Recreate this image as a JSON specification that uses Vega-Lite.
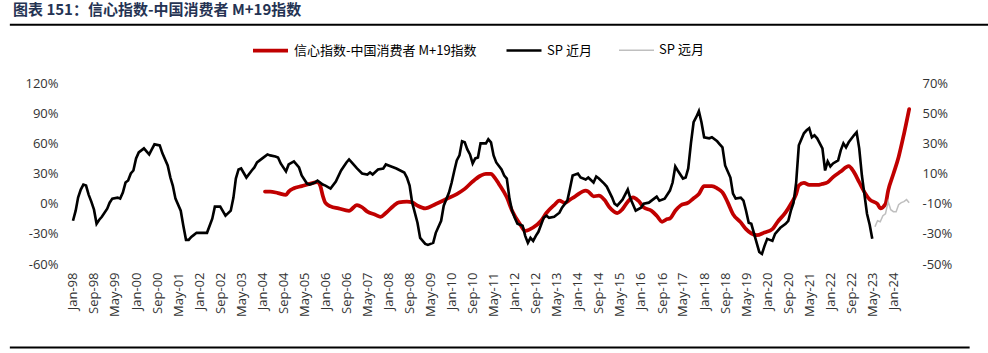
{
"$schema":"https://vega.github.io/schema/vega-lite/v6.json",
"autosize":{"type":"none"},
"padding":{"left":66,"top":83,"right":74,"bottom":89},
"width":848,"height":181,
"background":"#ffffff",
"config":{"view":{"stroke":null},"font":"Open Sans"},
"title":{"text":"图表 151：信心指数-中国消费者 M+19指数","anchor":"start","frame":"group","dx":-53,"offset":6,"font":"Noto Sans CJK SC","fontSize":15,"fontWeight":"bold","color":"#253353"},
"datasets":{
"red":[
{"d":"2004-02-01","v":-2},{"d":"2004-04-01","v":-2},{"d":"2004-07-01","v":-3},{"d":"2004-10-01","v":-4.2},{"d":"2004-11-01","v":-2},
{"d":"2005-01-01","v":0.2},{"d":"2005-04-01","v":1.6},{"d":"2005-07-01","v":3.1},{"d":"2005-10-01","v":4.2},{"d":"2005-11-01","v":2},{"d":"2005-12-01","v":-4.7},
{"d":"2006-01-01","v":-9.5},{"d":"2006-03-01","v":-11.8},{"d":"2006-06-01","v":-13.1},{"d":"2006-10-01","v":-14.7},
{"d":"2007-01-01","v":-10.9},{"d":"2007-03-01","v":-12.4},{"d":"2007-05-01","v":-15.3},{"d":"2007-08-01","v":-17.3},{"d":"2007-10-01","v":-18.7},{"d":"2007-12-01","v":-16.2},
{"d":"2008-03-01","v":-11.3},{"d":"2008-05-01","v":-9.1},{"d":"2008-08-01","v":-8.7},{"d":"2008-10-01","v":-9.1},{"d":"2008-12-01","v":-11.3},
{"d":"2009-03-01","v":-13.1},{"d":"2009-07-01","v":-10.2},{"d":"2009-11-01","v":-6.9},
{"d":"2010-03-01","v":-3.6},{"d":"2010-06-01","v":-0.2},{"d":"2010-09-01","v":4.7},{"d":"2010-12-01","v":8.5},
{"d":"2011-02-01","v":9.8},{"d":"2011-04-01","v":9.8},{"d":"2011-05-01","v":8.2},{"d":"2011-07-01","v":3.1},{"d":"2011-10-01","v":-5.8},{"d":"2011-12-01","v":-14.7},
{"d":"2012-03-01","v":-23.5},{"d":"2012-05-01","v":-28},{"d":"2012-08-01","v":-25.8},{"d":"2012-11-01","v":-21.3},
{"d":"2013-01-01","v":-16.2},{"d":"2013-04-01","v":-10.9},{"d":"2013-06-01","v":-8},{"d":"2013-08-01","v":-9.5},{"d":"2013-10-01","v":-7.3},{"d":"2013-12-01","v":-5.1},
{"d":"2014-04-01","v":-1.3},{"d":"2014-05-01","v":-2},{"d":"2014-07-01","v":-5.1},{"d":"2014-09-01","v":-4.7},{"d":"2014-11-01","v":-7.3},
{"d":"2015-01-01","v":-12.4},{"d":"2015-04-01","v":-16.2},{"d":"2015-06-01","v":-13.6},{"d":"2015-08-01","v":-8.7},{"d":"2015-10-01","v":-5.8},{"d":"2015-12-01","v":-8},
{"d":"2016-02-01","v":-12.4},{"d":"2016-05-01","v":-14.7},{"d":"2016-07-01","v":-18},{"d":"2016-09-01","v":-22},{"d":"2016-11-01","v":-20.2},{"d":"2016-12-01","v":-19.8},
{"d":"2017-02-01","v":-14.7},{"d":"2017-04-01","v":-11.3},{"d":"2017-07-01","v":-9.3},{"d":"2017-09-01","v":-6.4},{"d":"2017-11-01","v":-3.6},
{"d":"2018-01-01","v":1.6},{"d":"2018-04-01","v":1.6},{"d":"2018-06-01","v":0.2},{"d":"2018-08-01","v":-2.5},{"d":"2018-10-01","v":-9.1},{"d":"2018-12-01","v":-16.9},
{"d":"2019-03-01","v":-22.4},{"d":"2019-05-01","v":-26.9},{"d":"2019-09-01","v":-30.9},{"d":"2019-12-01","v":-29.1},
{"d":"2020-03-01","v":-26.9},{"d":"2020-05-01","v":-22},{"d":"2020-08-01","v":-15.8},{"d":"2020-10-01","v":-10.2},{"d":"2020-12-01","v":-3.6},
{"d":"2021-01-01","v":2},{"d":"2021-03-01","v":3.8},{"d":"2021-05-01","v":2.4},{"d":"2021-08-01","v":2.4},{"d":"2021-10-01","v":3.1},{"d":"2021-12-01","v":4.2},
{"d":"2022-02-01","v":7.6},{"d":"2022-05-01","v":11.3},{"d":"2022-08-01","v":14.9},{"d":"2022-10-01","v":10.9},{"d":"2022-12-01","v":4.2},
{"d":"2023-02-01","v":-2.5},{"d":"2023-04-01","v":-7.3},{"d":"2023-07-01","v":-10.2},{"d":"2023-08-01","v":-13.1},{"d":"2023-10-01","v":-10.2},{"d":"2023-11-01","v":-1.3},
{"d":"2024-01-01","v":9.8},{"d":"2024-03-01","v":21},{"d":"2024-05-01","v":36},{"d":"2024-07-01","v":52.7}
],
"near":[
{"d":"1998-01-01","v":-17},{"d":"1998-02-01","v":-7},{"d":"1998-03-01","v":6},{"d":"1998-04-01","v":14},{"d":"1998-05-01","v":19},{"d":"1998-06-01","v":18},{"d":"1998-07-01","v":9},{"d":"1998-08-01","v":2},{"d":"1998-09-01","v":-6},{"d":"1998-10-01","v":-20},{"d":"1998-11-01","v":-16},{"d":"1998-12-01","v":-13},
{"d":"1999-02-01","v":-5},{"d":"1999-03-01","v":1},{"d":"1999-04-01","v":5},{"d":"1999-06-01","v":6},{"d":"1999-07-01","v":5},{"d":"1999-08-01","v":11},{"d":"1999-09-01","v":21},{"d":"1999-10-01","v":23},{"d":"1999-11-01","v":30},{"d":"1999-12-01","v":33},
{"d":"2000-01-01","v":45},{"d":"2000-02-01","v":51},{"d":"2000-04-01","v":55},{"d":"2000-05-01","v":52},{"d":"2000-06-01","v":49},{"d":"2000-07-01","v":54},{"d":"2000-08-01","v":59},{"d":"2000-10-01","v":58},{"d":"2000-11-01","v":50},
{"d":"2001-01-01","v":38},{"d":"2001-02-01","v":26},{"d":"2001-03-01","v":18},{"d":"2001-04-01","v":5},{"d":"2001-06-01","v":-7},{"d":"2001-07-01","v":-22},{"d":"2001-08-01","v":-36},{"d":"2001-09-01","v":-36},{"d":"2001-10-01","v":-33},{"d":"2001-11-01","v":-31},{"d":"2001-12-01","v":-29},
{"d":"2002-01-01","v":-29},{"d":"2002-04-01","v":-29},{"d":"2002-06-01","v":-15},{"d":"2002-07-01","v":-3},{"d":"2002-09-01","v":-3},{"d":"2002-11-01","v":-12},
{"d":"2003-01-01","v":-7},{"d":"2003-02-01","v":6},{"d":"2003-03-01","v":25},{"d":"2003-04-01","v":34},{"d":"2003-05-01","v":35},{"d":"2003-07-01","v":26},{"d":"2003-09-01","v":33},{"d":"2003-10-01","v":36},{"d":"2003-11-01","v":41},
{"d":"2004-01-01","v":45},{"d":"2004-03-01","v":49},{"d":"2004-04-01","v":48},{"d":"2004-06-01","v":47},{"d":"2004-07-01","v":46},{"d":"2004-08-01","v":40},{"d":"2004-10-01","v":32},{"d":"2004-11-01","v":39},
{"d":"2005-01-01","v":42},{"d":"2005-03-01","v":36},{"d":"2005-04-01","v":28},{"d":"2005-06-01","v":20},{"d":"2005-07-01","v":19},{"d":"2005-09-01","v":21},{"d":"2005-10-01","v":23},{"d":"2005-12-01","v":19},
{"d":"2006-01-01","v":18},{"d":"2006-03-01","v":15},{"d":"2006-05-01","v":22},{"d":"2006-07-01","v":33},{"d":"2006-09-01","v":41},{"d":"2006-10-01","v":44},{"d":"2006-11-01","v":41},
{"d":"2007-01-01","v":35},{"d":"2007-03-01","v":30},{"d":"2007-05-01","v":29},{"d":"2007-06-01","v":31},{"d":"2007-07-01","v":29},{"d":"2007-09-01","v":34},{"d":"2007-11-01","v":35},{"d":"2007-12-01","v":39},
{"d":"2008-02-01","v":37},{"d":"2008-04-01","v":35},{"d":"2008-07-01","v":31},{"d":"2008-08-01","v":26},{"d":"2008-09-01","v":18},{"d":"2008-10-01","v":1},{"d":"2008-12-01","v":-19},
{"d":"2009-01-01","v":-34},{"d":"2009-03-01","v":-40},{"d":"2009-04-01","v":-41},{"d":"2009-06-01","v":-39},{"d":"2009-07-01","v":-29},{"d":"2009-09-01","v":-17},{"d":"2009-10-01","v":-2},{"d":"2009-12-01","v":11},
{"d":"2010-01-01","v":21},{"d":"2010-02-01","v":33},{"d":"2010-03-01","v":43},{"d":"2010-04-01","v":48},{"d":"2010-05-01","v":62},{"d":"2010-06-01","v":61},{"d":"2010-07-01","v":54},{"d":"2010-08-01","v":49},{"d":"2010-09-01","v":40},{"d":"2010-10-01","v":45},{"d":"2010-11-01","v":46},{"d":"2010-12-01","v":60},
{"d":"2011-02-01","v":60},{"d":"2011-03-01","v":64},{"d":"2011-04-01","v":61},{"d":"2011-05-01","v":48},{"d":"2011-06-01","v":41},{"d":"2011-08-01","v":34},{"d":"2011-09-01","v":28},{"d":"2011-10-01","v":25},{"d":"2011-11-01","v":5},{"d":"2011-12-01","v":-7},
{"d":"2012-01-01","v":-14},{"d":"2012-02-01","v":-20},{"d":"2012-04-01","v":-22},{"d":"2012-05-01","v":-32},{"d":"2012-06-01","v":-39},{"d":"2012-07-01","v":-34},{"d":"2012-08-01","v":-37},{"d":"2012-09-01","v":-32},{"d":"2012-10-01","v":-28},{"d":"2012-12-01","v":-14},
{"d":"2013-01-01","v":-12},{"d":"2013-02-01","v":-14},{"d":"2013-04-01","v":-13},{"d":"2013-06-01","v":-9},{"d":"2013-07-01","v":-4},{"d":"2013-09-01","v":3},{"d":"2013-10-01","v":15},{"d":"2013-11-01","v":28},
{"d":"2014-01-01","v":30},{"d":"2014-02-01","v":26},{"d":"2014-04-01","v":24},{"d":"2014-05-01","v":26},{"d":"2014-07-01","v":21},{"d":"2014-08-01","v":27},{"d":"2014-09-01","v":25},{"d":"2014-11-01","v":20},{"d":"2014-12-01","v":17},
{"d":"2015-02-01","v":6},{"d":"2015-03-01","v":0},{"d":"2015-04-01","v":-2},{"d":"2015-06-01","v":4},{"d":"2015-08-01","v":14},{"d":"2015-09-01","v":5},{"d":"2015-11-01","v":-7},
{"d":"2016-01-01","v":-4},{"d":"2016-02-01","v":0},{"d":"2016-04-01","v":1},{"d":"2016-06-01","v":5},{"d":"2016-07-01","v":7},{"d":"2016-08-01","v":3},{"d":"2016-10-01","v":5},{"d":"2016-12-01","v":13},
{"d":"2017-01-01","v":21},{"d":"2017-02-01","v":37},{"d":"2017-03-01","v":33},{"d":"2017-05-01","v":25},{"d":"2017-06-01","v":26},{"d":"2017-07-01","v":35},{"d":"2017-08-01","v":60},{"d":"2017-09-01","v":81},{"d":"2017-10-01","v":86},{"d":"2017-11-01","v":92},{"d":"2017-12-01","v":81},
{"d":"2018-01-01","v":66},{"d":"2018-03-01","v":65},{"d":"2018-04-01","v":66},{"d":"2018-06-01","v":62},{"d":"2018-07-01","v":59},{"d":"2018-08-01","v":56},{"d":"2018-09-01","v":38},{"d":"2018-11-01","v":26},{"d":"2018-12-01","v":10},
{"d":"2019-01-01","v":5},{"d":"2019-03-01","v":6},{"d":"2019-04-01","v":3},{"d":"2019-05-01","v":-7},{"d":"2019-06-01","v":-19},{"d":"2019-07-01","v":-20},{"d":"2019-09-01","v":-39},{"d":"2019-10-01","v":-48},{"d":"2019-11-01","v":-50},{"d":"2019-12-01","v":-42},
{"d":"2020-01-01","v":-35},{"d":"2020-03-01","v":-37},{"d":"2020-04-01","v":-30},{"d":"2020-05-01","v":-27},{"d":"2020-06-01","v":-24},{"d":"2020-08-01","v":-20},{"d":"2020-09-01","v":-17},{"d":"2020-10-01","v":-7},{"d":"2020-11-01","v":1},{"d":"2020-12-01","v":21},
{"d":"2021-01-01","v":58},{"d":"2021-03-01","v":70},{"d":"2021-04-01","v":73},{"d":"2021-05-01","v":75},{"d":"2021-06-01","v":66},{"d":"2021-07-01","v":68},{"d":"2021-08-01","v":65},{"d":"2021-10-01","v":55},{"d":"2021-11-01","v":33},{"d":"2021-12-01","v":42},
{"d":"2022-01-01","v":37},{"d":"2022-02-01","v":40},{"d":"2022-04-01","v":43},{"d":"2022-05-01","v":53},{"d":"2022-06-01","v":60},{"d":"2022-07-01","v":56},{"d":"2022-08-01","v":61},{"d":"2022-10-01","v":68},{"d":"2022-11-01","v":71},{"d":"2022-12-01","v":55},
{"d":"2023-01-01","v":28},{"d":"2023-02-01","v":8},{"d":"2023-03-01","v":-10},{"d":"2023-04-01","v":-21},{"d":"2023-05-01","v":-35}
],
"far":[
{"d":"2023-06-01","v":-23},{"d":"2023-07-01","v":-17},{"d":"2023-08-01","v":-18},{"d":"2023-09-01","v":-12},{"d":"2023-10-01","v":-10},{"d":"2023-11-01","v":2},{"d":"2023-12-01","v":-6},
{"d":"2024-01-01","v":-8},{"d":"2024-02-01","v":-8},{"d":"2024-03-01","v":-1},{"d":"2024-04-01","v":1},{"d":"2024-05-01","v":2},{"d":"2024-06-01","v":4},{"d":"2024-07-01","v":1}
]
},
"layer":[
{
"data":{"values":[{}]},
"mark":{"type":"rule","color":"#000000","strokeWidth":2},
"encoding":{
"x":{"datum":{"year":1996,"month":1,"date":1,"utc":true},"type":"temporal","scale":{"type":"utc","domain":[{"year":1997,"month":10,"date":12,"utc":true},{"year":2024,"month":8,"date":26,"utc":true}]},"axis":null},
"x2":{"datum":{"year":2027,"month":1,"date":1,"utc":true}},
"y":{"datum":178,"type":"quantitative","scale":{"domain":[-60,120],"nice":false,"zero":false},"axis":null}
}
},
{
"data":{"values":[{}]},
"mark":{"type":"rule","color":"#000000","strokeWidth":2},
"encoding":{
"x":{"datum":{"year":1996,"month":1,"date":1,"utc":true},"type":"temporal","scale":{"type":"utc","domain":[{"year":1997,"month":10,"date":12,"utc":true},{"year":2024,"month":8,"date":26,"utc":true}]},"axis":null},
"x2":{"datum":{"year":2026,"month":6,"date":1,"utc":true}},
"y":{"datum":-143,"type":"quantitative","scale":{"domain":[-60,120],"nice":false,"zero":false},"axis":null}
}
},
{
"data":{"name":"red"},
"transform":[{"calculate":"'信心指数-中国消费者 M+19指数'","as":"s"}],
"mark":{"type":"line","interpolate":"monotone","strokeCap":"round"},
"encoding":{
"x":{"field":"d","type":"temporal","scale":{"type":"utc","domain":[{"year":1997,"month":10,"date":12,"utc":true},{"year":2024,"month":8,"date":26,"utc":true}]},"axis":null},
"y":{"field":"v","type":"quantitative","scale":{"domain":[-50,70],"nice":false,"zero":false},
"axis":{"orient":"right","values":[-50,-30,-10,10,30,50,70],"labelExpr":"datum.value + '%'","domain":false,"ticks":false,"grid":false,"title":null,"labelFont":"Open Sans","labelFontSize":13,"labelColor":"#333333","labelPadding":8}},
"color":{"field":"s","type":"nominal","scale":{"domain":["信心指数-中国消费者 M+19指数","SP 近月","SP 远月"],"range":["#C00000","#000000","#BFBFBF"]},
"legend":{"orient":"none","legendX":185,"legendY":-52,"direction":"horizontal","title":null,"symbolType":"stroke","symbolSize":1225,"labelFont":"Noto Sans CJK SC","labelFontSize":13,"labelColor":"#000000","labelLimit":0,"columnPadding":24,"labelOffset":4}},
"strokeWidth":{"field":"s","type":"nominal","scale":{"domain":["信心指数-中国消费者 M+19指数","SP 近月","SP 远月"],"range":[3.75,1.5,1.5]},
"legend":{"orient":"none","legendX":185,"legendY":-52,"direction":"horizontal","title":null,"symbolType":"stroke","symbolSize":1225,"labelFont":"Noto Sans CJK SC","labelFontSize":13,"labelColor":"#000000","labelLimit":0,"columnPadding":24,"labelOffset":4}}
}
},
{
"data":{"name":"near"},
"transform":[{"calculate":"'SP 近月'","as":"s"}],
"mark":{"type":"line"},
"encoding":{
"x":{"field":"d","type":"temporal","scale":{"type":"utc","domain":[{"year":1997,"month":10,"date":12,"utc":true},{"year":2024,"month":8,"date":26,"utc":true}]},
"axis":{"orient":"bottom","values":[
{"year":1998,"month":1,"date":1,"utc":true},{"year":1998,"month":9,"date":1,"utc":true},{"year":1999,"month":5,"date":1,"utc":true},
{"year":2000,"month":1,"date":1,"utc":true},{"year":2000,"month":9,"date":1,"utc":true},{"year":2001,"month":5,"date":1,"utc":true},
{"year":2002,"month":1,"date":1,"utc":true},{"year":2002,"month":9,"date":1,"utc":true},{"year":2003,"month":5,"date":1,"utc":true},
{"year":2004,"month":1,"date":1,"utc":true},{"year":2004,"month":9,"date":1,"utc":true},{"year":2005,"month":5,"date":1,"utc":true},
{"year":2006,"month":1,"date":1,"utc":true},{"year":2006,"month":9,"date":1,"utc":true},{"year":2007,"month":5,"date":1,"utc":true},
{"year":2008,"month":1,"date":1,"utc":true},{"year":2008,"month":9,"date":1,"utc":true},{"year":2009,"month":5,"date":1,"utc":true},
{"year":2010,"month":1,"date":1,"utc":true},{"year":2010,"month":9,"date":1,"utc":true},{"year":2011,"month":5,"date":1,"utc":true},
{"year":2012,"month":1,"date":1,"utc":true},{"year":2012,"month":9,"date":1,"utc":true},{"year":2013,"month":5,"date":1,"utc":true},
{"year":2014,"month":1,"date":1,"utc":true},{"year":2014,"month":9,"date":1,"utc":true},{"year":2015,"month":5,"date":1,"utc":true},
{"year":2016,"month":1,"date":1,"utc":true},{"year":2016,"month":9,"date":1,"utc":true},{"year":2017,"month":5,"date":1,"utc":true},
{"year":2018,"month":1,"date":1,"utc":true},{"year":2018,"month":9,"date":1,"utc":true},{"year":2019,"month":5,"date":1,"utc":true},
{"year":2020,"month":1,"date":1,"utc":true},{"year":2020,"month":9,"date":1,"utc":true},{"year":2021,"month":5,"date":1,"utc":true},
{"year":2022,"month":1,"date":1,"utc":true},{"year":2022,"month":9,"date":1,"utc":true},{"year":2023,"month":5,"date":1,"utc":true},
{"year":2024,"month":1,"date":1,"utc":true}],
"format":"%b-%y","labelAngle":-90,"labelOverlap":false,"labelFlush":false,"labelBound":false,"domain":false,"ticks":false,"grid":false,"title":null,"labelFont":"Open Sans","labelFontSize":13,"labelColor":"#333333","labelPadding":8}},
"y":{"field":"v","type":"quantitative","scale":{"domain":[-60,120],"nice":false,"zero":false},
"axis":{"orient":"left","values":[-60,-30,0,30,60,90,120],"labelExpr":"datum.value + '%'","domain":false,"ticks":false,"grid":false,"title":null,"labelFont":"Open Sans","labelFontSize":13,"labelColor":"#333333","labelPadding":8}},
"color":{"field":"s","type":"nominal","scale":{"domain":["信心指数-中国消费者 M+19指数","SP 近月","SP 远月"],"range":["#C00000","#000000","#BFBFBF"]},
"legend":{"orient":"none","legendX":185,"legendY":-52,"direction":"horizontal","title":null,"symbolType":"stroke","symbolSize":1225,"labelFont":"Noto Sans CJK SC","labelFontSize":13,"labelColor":"#000000","labelLimit":0,"columnPadding":24,"labelOffset":4}},
"strokeWidth":{"field":"s","type":"nominal","scale":{"domain":["信心指数-中国消费者 M+19指数","SP 近月","SP 远月"],"range":[3.75,1.5,1.5]},
"legend":{"orient":"none","legendX":185,"legendY":-52,"direction":"horizontal","title":null,"symbolType":"stroke","symbolSize":1225,"labelFont":"Noto Sans CJK SC","labelFontSize":13,"labelColor":"#000000","labelLimit":0,"columnPadding":24,"labelOffset":4}}
}
},
{
"data":{"name":"far"},
"transform":[{"calculate":"'SP 远月'","as":"s"}],
"mark":{"type":"line"},
"encoding":{
"x":{"field":"d","type":"temporal","scale":{"type":"utc","domain":[{"year":1997,"month":10,"date":12,"utc":true},{"year":2024,"month":8,"date":26,"utc":true}]},"axis":null},
"y":{"field":"v","type":"quantitative","scale":{"domain":[-60,120],"nice":false,"zero":false},"axis":null},
"color":{"field":"s","type":"nominal","scale":{"domain":["信心指数-中国消费者 M+19指数","SP 近月","SP 远月"],"range":["#C00000","#000000","#BFBFBF"]},
"legend":{"orient":"none","legendX":185,"legendY":-52,"direction":"horizontal","title":null,"symbolType":"stroke","symbolSize":1225,"labelFont":"Noto Sans CJK SC","labelFontSize":13,"labelColor":"#000000","labelLimit":0,"columnPadding":24,"labelOffset":4}},
"strokeWidth":{"field":"s","type":"nominal","scale":{"domain":["信心指数-中国消费者 M+19指数","SP 近月","SP 远月"],"range":[3.75,1.5,1.5]},
"legend":{"orient":"none","legendX":185,"legendY":-52,"direction":"horizontal","title":null,"symbolType":"stroke","symbolSize":1225,"labelFont":"Noto Sans CJK SC","labelFontSize":13,"labelColor":"#000000","labelLimit":0,"columnPadding":24,"labelOffset":4}}
}
}
],
"resolve":{"scale":{"y":"independent"},"axis":{"x":"independent","y":"independent"}}
}
